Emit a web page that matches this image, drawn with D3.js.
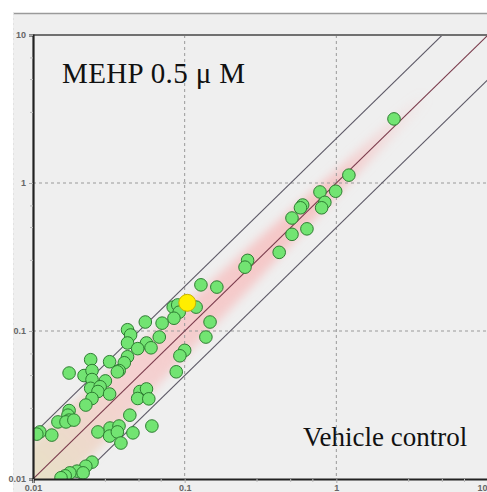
<!DOCTYPE html>
<html>
<head>
<meta charset="utf-8">
<script src="https://cdn.jsdelivr.net/npm/d3@7"></script>
<style>
  body { margin: 0; background: #fff; }
  svg { display: block; }
  .tick text { font-family: "Liberation Sans Narrow", "Liberation Sans", sans-serif; font-weight: bold; font-size: 9px; fill: #666; }
</style>
</head>
<body>
<svg id="chart"></svg>
<script>
// values (x: vehicle control, y: MEHP 0.5 uM)
const xVals = [2.40, 1.21, 0.78, 0.99, 0.60, 0.58, 0.84, 0.80, 0.51, 0.64, 0.51, 0.42, 0.26, 0.25,
  0.128, 0.163, 0.084, 0.090, 0.119, 0.092, 0.085, 0.071, 0.055, 0.147, 0.042, 0.044, 0.068, 0.138,
  0.042, 0.056, 0.060, 0.049, 0.100, 0.093, 0.088, 0.042, 0.040, 0.032, 0.024, 0.037, 0.036, 0.0173,
  0.0217, 0.0245, 0.0245, 0.030, 0.024, 0.0277, 0.0268, 0.0245, 0.032, 0.0223, 0.0507, 0.056, 0.049,
  0.058, 0.0173, 0.017, 0.0173, 0.0146, 0.0165, 0.0186, 0.0435, 0.0322, 0.0369, 0.0268, 0.032, 0.036,
  0.0456, 0.0608, 0.038, 0.0111, 0.0106, 0.0133, 0.0245, 0.0223, 0.0195, 0.0175, 0.0163, 0.0214, 0.0153];
const yVals = [2.71, 1.13, 0.87, 0.88, 0.71, 0.68, 0.74, 0.68, 0.58, 0.49, 0.45, 0.34, 0.30, 0.27,
  0.205, 0.198, 0.145, 0.150, 0.145, 0.134, 0.122, 0.113, 0.115, 0.115, 0.102, 0.094, 0.091, 0.091,
  0.083, 0.083, 0.077, 0.076, 0.074, 0.068, 0.053, 0.067, 0.061, 0.062, 0.064, 0.054, 0.053, 0.052,
  0.050, 0.054, 0.047, 0.046, 0.041, 0.042, 0.039, 0.035, 0.0375, 0.0316, 0.039, 0.0406, 0.035,
  0.0348, 0.029, 0.027, 0.025, 0.0243, 0.0243, 0.025, 0.027, 0.0221, 0.0228, 0.0208, 0.0195, 0.0208,
  0.0205, 0.0228, 0.0175, 0.0208, 0.0201, 0.0198, 0.0130, 0.0122, 0.0113, 0.0110, 0.0105, 0.0110, 0.0102];
// highlighted gene
const highlightX = [0.104];
const highlightY = [0.155];

const majorTicks = [0.01, 0.1, 1, 10];
const tickLabels = ["0.01", "0.1", "1", "10"];
const minorTicks = [0.03, 0.05, 0.07, 0.3, 0.5, 0.7, 3, 5, 7];
const gridTicks = [0.1, 1];
const foldLines = [2, 1, 0.5];

const width = 487, height = 492;
const margin = { top: 35, left: 33 };
const plotW = 455, plotH = 444;

const svg = d3.select("#chart").attr("width", width).attr("height", height);

// grey panel
svg.append("rect").attr("x", 13).attr("y", 13).attr("width", width - 13).attr("height", height - 13)
  .attr("fill", "#efefef");
svg.append("line").attr("x1", 13).attr("x2", width).attr("y1", 13.5).attr("y2", 13.5)
  .attr("stroke", "#9a9a9a").attr("stroke-width", 1.5);
svg.append("line").attr("x1", 13.5).attr("x2", 13.5).attr("y1", 13).attr("y2", height)
  .attr("stroke", "#e2e2e2").attr("stroke-dasharray", "2,3");

const chart = svg.append("g").attr("transform", `translate(${margin.left},${margin.top})`);

const x = d3.scaleLog().domain([0.01, 10]).range([0, plotW]);
const y = d3.scaleLog().domain([0.01, 10]).range([plotH, 0]);

const defs = svg.append("defs");
defs.append("clipPath").attr("id", "clip").append("rect")
  .attr("width", plotW + 10).attr("height", plotH);
defs.append("filter").attr("id", "blur").attr("x", "-20%").attr("y", "-20%").attr("width", "140%").attr("height", "140%")
  .append("feGaussianBlur").attr("stdDeviation", 5);
const grad = defs.append("linearGradient").attr("id", "bandGrad")
  .attr("gradientUnits", "userSpaceOnUse")
  .attr("x1", x(0.01)).attr("y1", y(0.01)).attr("x2", x(4)).attr("y2", y(4));
grad.append("stop").attr("offset", "0%").attr("stop-color", "#e6dfc2").attr("stop-opacity", 0.9);
grad.append("stop").attr("offset", "25%").attr("stop-color", "#f6c9c9").attr("stop-opacity", 0.8);
grad.append("stop").attr("offset", "75%").attr("stop-color", "#f7b3b3").attr("stop-opacity", 0.7);
grad.append("stop").attr("offset", "100%").attr("stop-color", "#f7b3b3").attr("stop-opacity", 0);

const plot = chart.append("g").attr("clip-path", "url(#clip)");

// pink smear along the diagonal, wide at low expression, narrow at high
const bandX = [0.008, 0.02, 0.05, 0.1, 0.3, 1, 4];
const bandW = [1.8, 1.75, 1.6, 1.5, 1.38, 1.22, 1.12];
const bandPts = bandX.map((v, i) => [x(v), y(v * bandW[i])])
  .concat(bandX.map((v, i) => [x(v), y(v / bandW[i])]).reverse());
plot.append("path")
  .attr("d", d3.line()(bandPts) + "Z")
  .attr("fill", "url(#bandGrad)")
  .attr("filter", "url(#blur)");

// grid
plot.selectAll(".vgrid").data(gridTicks).join("line")
  .attr("x1", d => x(d)).attr("x2", d => x(d)).attr("y1", 0).attr("y2", plotH)
  .attr("stroke", "#999").attr("stroke-dasharray", "3,3");
plot.selectAll(".hgrid").data(gridTicks).join("line")
  .attr("y1", d => y(d)).attr("y2", d => y(d)).attr("x1", 0).attr("x2", plotW)
  .attr("stroke", "#999").attr("stroke-dasharray", "3,3");

// fold change lines
plot.selectAll(".fold").data(foldLines).join("line")
  .attr("x1", d => x(0.001)).attr("y1", d => y(0.001 * d))
  .attr("x2", d => x(100)).attr("y2", d => y(100 * d))
  .attr("stroke", d => d === 1 ? "#7a3b4c" : "#5c5866")
  .attr("stroke-width", 1.1);

// points
plot.selectAll(".pt").data(xVals.map((v, i) => [v, yVals[i]])).join("circle")
  .attr("cx", d => x(d[0])).attr("cy", d => y(d[1])).attr("r", 6.3)
  .attr("fill", "#72e472").attr("stroke", "#2e7d32").attr("stroke-width", 1);
plot.selectAll(".hl").data(highlightX.map((v, i) => [v, highlightY[i]])).join("circle")
  .attr("cx", d => x(d[0])).attr("cy", d => y(d[1])).attr("r", 8.5)
  .attr("fill", "#ffee00").attr("stroke", "#c9b300").attr("stroke-width", 1);

// frame top
chart.append("line").attr("x1", 0).attr("x2", plotW + 10).attr("y1", 0).attr("y2", 0)
  .attr("stroke", "#707070").attr("stroke-width", 2);

// axes
const yAxis = d3.axisLeft(y).tickValues(majorTicks).tickSize(4).tickPadding(3)
  .tickFormat((d, i) => tickLabels[i]);
const xAxis = d3.axisBottom(x).tickValues(majorTicks).tickSize(4).tickPadding(2)
  .tickFormat((d, i) => tickLabels[i]);

const ya = chart.append("g").call(yAxis);
ya.select(".domain").attr("stroke", "#222").attr("stroke-width", 2.2);
ya.selectAll(".tick line").attr("stroke", "#aaa");
const xa = chart.append("g").attr("transform", `translate(0,${plotH})`).call(xAxis);
xa.select(".domain").attr("stroke", "#222").attr("stroke-width", 2.2);
xa.selectAll(".tick line").attr("stroke", "#aaa");
// last x label sits at the window edge: keep it inside
xa.selectAll(".tick text").filter(d => d === 10).attr("text-anchor", "end").attr("dx", -1);

chart.append("g").selectAll("line").data(minorTicks).join("line")
  .attr("x1", -3).attr("x2", 0).attr("y1", d => y(d)).attr("y2", d => y(d)).attr("stroke", "#bbb");
chart.append("g").selectAll("line").data(minorTicks).join("line")
  .attr("y1", plotH).attr("y2", plotH + 3).attr("x1", d => x(d)).attr("x2", d => x(d)).attr("stroke", "#bbb");

// labels
svg.append("text").attr("x", 62).attr("y", 83)
  .attr("font-family", "'Liberation Serif', 'DejaVu Serif', serif").attr("font-size", 29).attr("fill", "#111")
  .attr("textLength", 183).attr("lengthAdjust", "spacing")
  .text("MEHP 0.5 μ M");
svg.append("text").attr("x", 303).attr("y", 446)
  .attr("font-family", "'Liberation Serif', 'DejaVu Serif', serif").attr("font-size", 27).attr("fill", "#111")
  .text("Vehicle control");
</script>
</body>
</html>
